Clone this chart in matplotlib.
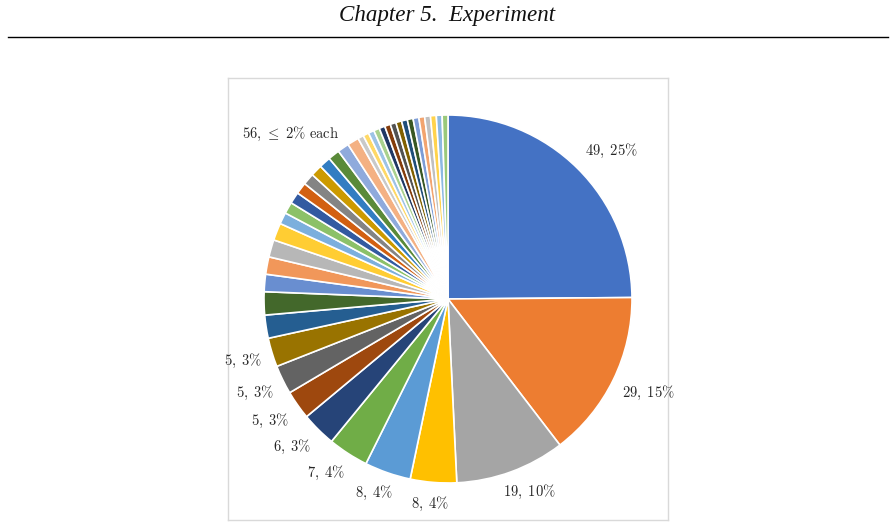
import colorsys

import matplotlib
matplotlib.use("Agg")
import matplotlib.pyplot as plt
import numpy as np
from matplotlib.colors import to_rgb, to_hex
from matplotlib.lines import Line2D

plt.rcParams['mathtext.fontset'] = 'cm'

# slice counts, clockwise from 12 o'clock
big_counts = [49, 29, 19, 8, 8, 7, 6, 5, 5, 5]
small_counts = [4, 4, 3, 3, 3, 3, 2, 2,
                2, 2, 2, 2, 2, 2,
                2, 2, 1, 1, 1, 1,
                1, 1, 1, 1, 1, 1,
                1, 1, 1, 1, 1, 1]
counts = big_counts + small_counts
total = sum(counts)

header = "Chapter 5.  Experiment"

# Excel office palette: accents, then darker / lighter variants
accents = ['#4472C4', '#ED7D31', '#A5A5A5', '#FFC000', '#5B9BD5', '#70AD47']
tints = [(1.0, 0.0), (0.6, 0.0), (0.8, 0.2), (0.8, 0.0), (0.6, 0.4), (0.5, 0.0), (0.7, 0.3)]


def shade(c, mod, off):
    h, l, s = colorsys.rgb_to_hls(*to_rgb(c))
    return to_hex(colorsys.hls_to_rgb(h, min(1, l * mod + off), s))


colors = [shade(accents[i % 6], *tints[i // 6]) for i in range(len(counts))]

fig = plt.figure(figsize=(8.95, 5.27), dpi=100)

# page header
fig.text(0.5, 1 - 16 / 527, header, ha='center', va='center',
         fontsize=16.6, style='italic', family='Liberation Serif', color='#111111')
fig.add_artist(Line2D([8 / 895, 888 / 895], [1 - 37 / 527] * 2, color='black', lw=1))

R_PX = 184  # pie radius in pixels
ax = fig.add_axes([228 / 895, 7 / 527, 440 / 895, 442 / 527])
wedges, _ = ax.pie(counts, colors=colors, startangle=90, counterclock=False,
                   wedgeprops=dict(edgecolor='white', linewidth=1.2))
ax.set_aspect('auto')
ax.set_xlim(-220 / R_PX, 220 / R_PX)
ax.set_ylim(-221 / R_PX, 221 / R_PX)
ax.set_frame_on(True)
for sp in ax.spines.values():
    sp.set_color('#D9D9D9')
    sp.set_linewidth(1)
ax.set_xticks([])
ax.set_yticks([])

label_color = '#262626'
renderer = fig.canvas.get_renderer()


def outside_label(text, angle_deg, gap=10):
    # excel "outside end": anchor just past the rim, box pushed away from it
    t = ax.text(0, 0, text, ha='center', va='center', fontsize=10.5, color=label_color)
    bb = t.get_window_extent(renderer)
    a = np.deg2rad(angle_deg)
    dx, dy = np.cos(a), np.sin(a)
    x = (R_PX + gap) * dx + np.clip(1.6 * dx, -1, 1) * bb.width / 2
    y = (R_PX + gap + 2) * dy + np.clip(2 * dy, -1, 1) * bb.height / 2
    t.set_position((x / R_PX, y / R_PX))
    return t


for w, v in zip(wedges[:len(big_counts)], big_counts):
    pct = int(100 * v / total + 0.5)
    outside_label(r"$\mathrm{%d,}\;\mathrm{%d\%%}$" % (v, pct), (w.theta1 + w.theta2) / 2)

# one label for the whole group of small slices
small_wedges = wedges[len(big_counts):]
group_mid = (small_wedges[0].theta2 + small_wedges[-1].theta1) / 2
a = np.deg2rad(group_mid - 7.5)
ax.text(1.24 * np.cos(a), 1.24 * np.sin(a),
        r"$\mathrm{%d,}\,\leq\;\mathrm{2\%%}\ \mathrm{each}$" % sum(small_counts),
        ha='center', va='center', fontsize=10.5, color=label_color)

fig.savefig("out.png", dpi=100)
